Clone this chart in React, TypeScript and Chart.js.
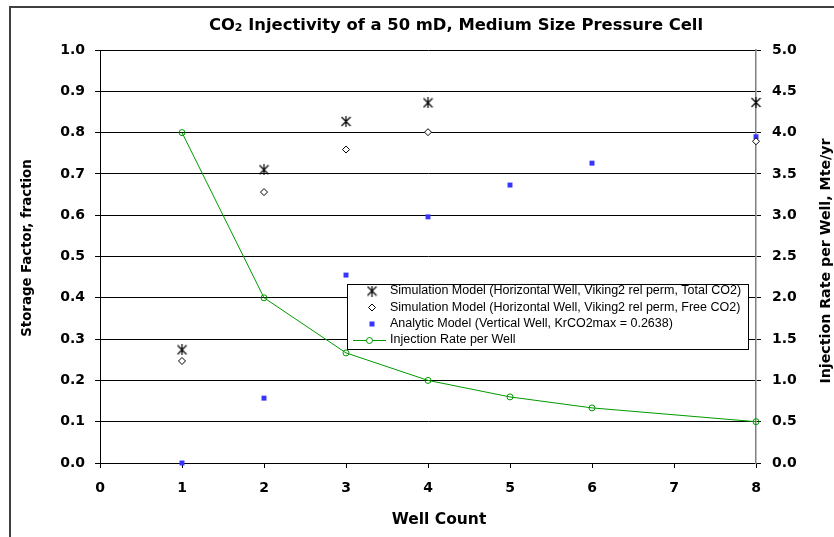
import React, { useEffect, useRef } from "react";
import { Chart, registerables } from "chart.js";

Chart.register(...registerables);

const FONT = "'Liberation Sans', Arial, sans-serif";
const BOLDFONT = "'DejaVu Sans', 'Liberation Sans', Arial, sans-serif";

const simWells = [1, 2, 3, 4, 8];
const totalCO2 = [0.274, 0.71, 0.827, 0.872, 0.873];
const freeCO2 = [0.247, 0.656, 0.759, 0.801, 0.779];
const analyticWells = [1, 2, 3, 4, 5, 6, 8];
const analyticCO2 = [0.0, 0.157, 0.455, 0.596, 0.673, 0.726, 0.79];
const rateWells = [1, 2, 3, 4, 5, 6, 8];
const injectionRate = [4.0, 2.0, 1.333, 1.0, 0.8, 0.667, 0.5];

const legendLabels = [
  "Simulation Model (Horizontal Well, Viking2 rel perm, Total CO2)",
  "Simulation Model (Horizontal Well, Viking2 rel perm, Free CO2)",
  "Analytic Model (Vertical Well, KrCO2max = 0.2638)",
  "Injection Rate per Well",
];

const GREEN = "#009a00";
const BLUE = "#3535ff";

function makeAsterisk(): HTMLCanvasElement {
  const c = document.createElement("canvas");
  c.width = 11;
  c.height = 11;
  const g = c.getContext("2d")!;
  g.strokeStyle = "#000";
  g.lineWidth = 1.2;
  g.beginPath();
  g.moveTo(1, 1);
  g.lineTo(10, 10);
  g.moveTo(10, 1);
  g.lineTo(1, 10);
  g.moveTo(5.5, 0);
  g.lineTo(5.5, 11);
  g.stroke();
  return c;
}

function toXY(xs: number[], ys: number[]) {
  return xs.map((x, i) => ({ x, y: ys[i] }));
}

export default function App() {
  const ref = useRef<HTMLCanvasElement>(null);

  useEffect(() => {
    const asterisk = makeAsterisk();

    const decor = {
      id: "decor",
      beforeDraw(chart: any) {
        const ctx = chart.ctx;
        ctx.save();
        ctx.fillStyle = "#fff";
        ctx.fillRect(0, 0, chart.width, chart.height);
        ctx.strokeStyle = "#404040";
        ctx.lineWidth = 2;
        ctx.strokeRect(10, 7, 1000, 1000);
        ctx.restore();
      },
      afterDraw(chart: any) {
        const ctx = chart.ctx;
        ctx.save();
        // Title
        ctx.fillStyle = "#000";
        ctx.textBaseline = "middle";
        const big = `bold 16.4px ${BOLDFONT}`;
        const small = `bold 11px ${BOLDFONT}`;
        const parts = [
          { t: "CO", f: big, dy: 0 },
          { t: "2", f: small, dy: 2.5 },
          { t: " Injectivity of a 50 mD, Medium Size Pressure Cell", f: big, dy: 0 },
        ];
        let total = 0;
        for (const p of parts) {
          ctx.font = p.f;
          total += ctx.measureText(p.t).width;
        }
        let x = 456 - total / 2;
        ctx.textAlign = "left";
        for (const p of parts) {
          ctx.font = p.f;
          ctx.fillText(p.t, x, 26 + p.dy);
          x += ctx.measureText(p.t).width;
        }
        // Axis titles
        ctx.textAlign = "center";
        ctx.font = `bold 15.5px ${BOLDFONT}`;
        ctx.fillText("Well Count", 439, 520);
        ctx.font = `bold 13.3px ${BOLDFONT}`;
        ctx.save();
        ctx.translate(28, 248);
        ctx.rotate(-Math.PI / 2);
        ctx.fillText("Storage Factor, fraction", 0, 0);
        ctx.restore();
        ctx.font = `bold 14.2px ${BOLDFONT}`;
        ctx.save();
        ctx.translate(826, 261);
        ctx.rotate(-Math.PI / 2);
        ctx.fillText("Injection Rate per Well, Mte/yr", 0, 0);
        ctx.restore();

        // Legend
        const lx = 347, ly = 284, lw = 401, lh = 65;
        ctx.fillStyle = "#fff";
        ctx.fillRect(lx, ly, lw, lh);
        ctx.strokeStyle = "#000";
        ctx.lineWidth = 1;
        ctx.strokeRect(lx + 0.5, ly + 0.5, lw, lh);
        const rows = [291, 307.5, 324, 340];
        const sx = 372;
        ctx.drawImage(asterisk, sx - 5.5, rows[0] - 5.5);
        ctx.beginPath();
        ctx.moveTo(sx, rows[1] - 3.5);
        ctx.lineTo(sx + 3.5, rows[1]);
        ctx.lineTo(sx, rows[1] + 3.5);
        ctx.lineTo(sx - 3.5, rows[1]);
        ctx.closePath();
        ctx.fillStyle = "#fff";
        ctx.fill();
        ctx.strokeStyle = "#000";
        ctx.stroke();
        ctx.fillStyle = BLUE;
        ctx.fillRect(sx - 2.5, rows[2] - 2.5, 5, 5);
        ctx.strokeStyle = GREEN;
        ctx.beginPath();
        ctx.moveTo(353, rows[3] + 0.5);
        ctx.lineTo(386, rows[3] + 0.5);
        ctx.stroke();
        ctx.beginPath();
        ctx.arc(369.5, rows[3] + 0.5, 3, 0, Math.PI * 2);
        ctx.fillStyle = "#fff";
        ctx.fill();
        ctx.stroke();
        ctx.fillStyle = "#000";
        ctx.font = `12.5px ${FONT}`;
        ctx.textAlign = "left";
        ctx.textBaseline = "middle";
        legendLabels.forEach((t, i) => ctx.fillText(t, 390, rows[i]));
        ctx.restore();
      },
    };

    const tickFont = { family: BOLDFONT, size: 14, weight: "bold" as const };

    const chart = new Chart(ref.current!, {
      type: "line",
      data: {
        datasets: [
          {
            label: legendLabels[0],
            data: toXY(simWells, totalCO2),
            showLine: false,
            pointStyle: asterisk as any,
            pointRadius: 5,
            yAxisID: "y",
            clip: false as any,
          },
          {
            label: legendLabels[1],
            data: toXY(simWells, freeCO2),
            showLine: false,
            pointStyle: "rectRot",
            pointRadius: 3.5,
            pointBorderWidth: 1,
            pointBorderColor: "#000",
            pointBackgroundColor: "#fff",
            yAxisID: "y",
            clip: false as any,
          },
          {
            label: legendLabels[2],
            data: toXY(analyticWells, analyticCO2),
            showLine: false,
            pointStyle: "rect",
            pointRadius: 3.5,
            pointBorderWidth: 0,
            pointBorderColor: BLUE,
            pointBackgroundColor: BLUE,
            yAxisID: "y",
            clip: false as any,
          },
          {
            label: legendLabels[3],
            data: toXY(rateWells, injectionRate),
            showLine: true,
            borderColor: GREEN,
            borderWidth: 1,
            pointStyle: "circle",
            pointRadius: 3,
            pointBorderWidth: 1,
            pointBorderColor: GREEN,
            pointBackgroundColor: "rgba(255,255,255,0)",
            tension: 0,
            yAxisID: "y1",
            clip: false as any,
          },
        ],
      },
      options: {
        responsive: false,
        animation: false,
        layout: { padding: { top: 50, left: 0, right: 0, bottom: 0 } },
        plugins: {
          legend: { display: false },
          title: { display: false },
          tooltip: { enabled: false },
        },
        scales: {
          x: {
            type: "linear",
            min: 0,
            max: 8,
            position: "bottom",
            afterFit: (s: any) => {
              s.height = 74;
            },
            ticks: { stepSize: 1, font: tickFont, color: "#000", padding: 12 },
            grid: { drawOnChartArea: false, drawTicks: true, tickLength: 5, color: "#000" },
            border: { color: "#000", width: 1 },
          },
          y: {
            type: "linear",
            position: "left",
            min: 0,
            max: 1,
            afterFit: (s: any) => {
              s.width = 100;
            },
            ticks: {
              stepSize: 0.1,
              font: tickFont,
              color: "#000",
              padding: 10,
              callback: (v: any) => Number(v).toFixed(1),
            },
            grid: { color: "#000", lineWidth: 1, tickLength: 5 },
            border: { color: "#000", width: 1 },
          },
          y1: {
            type: "linear",
            position: "right",
            min: 0,
            max: 5,
            afterFit: (s: any) => {
              s.width = 78;
            },
            ticks: {
              stepSize: 0.5,
              font: tickFont,
              color: "#000",
              padding: 11,
              callback: (v: any) => Number(v).toFixed(1),
            },
            grid: { drawOnChartArea: false, color: "#000", tickLength: 5 },
            border: { color: "#808080", width: 1.5 },
          },
        },
      },
      plugins: [decor],
    });
    return () => chart.destroy();
  }, []);

  return (
    <div style={{ position: "fixed", left: 0, top: 0, width: 834, height: 537 }}>
      <canvas ref={ref} width={834} height={537} style={{ display: "block" }} />
    </div>
  );
}
